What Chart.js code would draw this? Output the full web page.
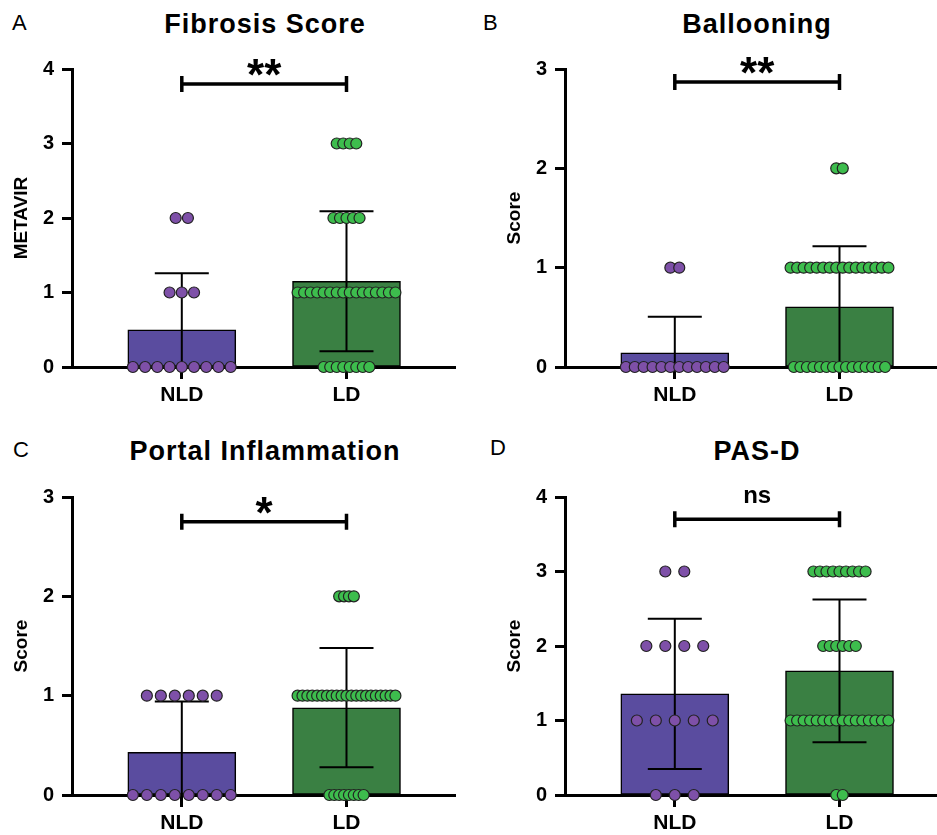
<!DOCTYPE html>
<html>
<head>
<meta charset="utf-8">
<script src="https://cdn.jsdelivr.net/npm/chart.js@4"></script>
<style>
  body { margin: 0; width: 937px; height: 835px; overflow: hidden; background: #fff;
         font-family: "Liberation Sans", Arial, Helvetica, sans-serif; position: relative; }
  canvas { position: absolute; }
  .letter { position: absolute; font-size: 22px; line-height: 1; color: #000; }
  .title { position: absolute; font-size: 27px; font-weight: bold; line-height: 1; letter-spacing: 1px;
           white-space: nowrap; transform: translateX(-50%); color: #000; }
</style>
</head>
<body>
<div class="letter" style="left:12px;top:12px">A</div>
<div class="letter" style="left:483px;top:12px">B</div>
<div class="letter" style="left:13px;top:439px">C</div>
<div class="letter" style="left:490px;top:437px">D</div>
<div class="title" style="left:265px;top:11px">Fibrosis Score</div>
<div class="title" style="left:757px;top:11px">Ballooning</div>
<div class="title" style="left:265px;top:438px">Portal Inflammation</div>
<div class="title" style="left:757px;top:438px">PAS-D</div>
<canvas id="chartA" width="462" height="418" style="left:0px;top:0px"></canvas>
<canvas id="chartB" width="462" height="418" style="left:493px;top:0px"></canvas>
<canvas id="chartC" width="462" height="418" style="left:0px;top:428px"></canvas>
<canvas id="chartD" width="462" height="418" style="left:493px;top:428px"></canvas>
<script>
// groups and per-animal scores
const groups = ['NLD', 'LD'];

const fibrosisNLD = [0, 0, 0, 0, 0, 0, 0, 0, 0, 1, 1, 1, 2, 2];
const fibrosisLD = [0, 0, 0, 0, 0, 0, 0, 0,
                    1, 1, 1, 1, 1, 1, 1, 1, 1, 1, 1, 1, 1, 1, 1, 1,
                    2, 2, 2, 2, 2, 3, 3, 3, 3];

const balloonNLD = [0, 0, 0, 0, 0, 0, 0, 0, 0, 0, 0, 0, 1, 1];
const balloonLD = [0, 0, 0, 0, 0, 0, 0, 0, 0, 0, 0, 0, 0, 0, 0,
                   1, 1, 1, 1, 1, 1, 1, 1, 1, 1, 1, 1, 1, 1, 1, 1,
                   2, 2];

const portalNLD = [0, 0, 0, 0, 0, 0, 0, 0, 1, 1, 1, 1, 1, 1];
const portalLD = [0, 0, 0, 0, 0, 0, 0, 0,
                  1, 1, 1, 1, 1, 1, 1, 1, 1, 1, 1, 1, 1, 1, 1, 1, 1, 1, 1, 1, 1,
                  2, 2, 2, 2];

const pasdNLD = [0, 0, 0, 1, 1, 1, 1, 1, 2, 2, 2, 2, 3, 3];
const pasdLD = [0, 0,
                1, 1, 1, 1, 1, 1, 1, 1, 1, 1, 1, 1, 1, 1, 1, 1,
                2, 2, 2, 2, 2, 2,
                3, 3, 3, 3, 3, 3, 3, 3, 3];

const yTitles = ['METAVIR', 'Score', 'Score', 'Score'];
const yMaxes = [4, 3, 3, 4];
const sigLabels = ['**', '**', '*', 'ns'];

const FONT = '"Liberation Sans", Arial, Helvetica, sans-serif';
Chart.defaults.font.family = FONT;
Chart.defaults.color = '#000';

const barColors = ['#5a4c9f', '#3a8043'];
const dotColors = ['#7e50a8', '#3dbd4d'];
const UNIT = 165;              // px between the two group centres
const SPREAD = 98 / UNIT;      // widest row of dots
const MAX_STEP = 19 / UNIT;

function mean(a) { return a.reduce((s, v) => s + v, 0) / a.length; }
function sd(a) {
    var m = mean(a);
    return Math.sqrt(a.reduce((s, v) => s + (v - m) * (v - m), 0) / (a.length - 1));
}

// spread tied scores side by side around the group centre
function swarm(values, gi) {
    var counts = {};
    values.forEach(v => { counts[v] = (counts[v] || 0) + 1; });
    var maxRow = Math.max(...Object.values(counts));
    var step = maxRow > 1 ? Math.min(MAX_STEP, SPREAD / (maxRow - 1)) : 0;
    var seen = {};
    return values.map(v => {
        seen[v] = seen[v] === undefined ? 0 : seen[v] + 1;
        return { x: gi + (seen[v] - (counts[v] - 1) / 2) * step, y: v };
    });
}

const errorBars = {
    id: 'errorBars',
    afterDatasetDraw(chart, args, opts) {
        if (args.index !== 0) return;
        const { ctx, scales: { x, y } } = chart;
        ctx.save();
        ctx.strokeStyle = '#000';
        ctx.lineWidth = 2;
        opts.means.forEach((m, i) => {
            var s = opts.sds[i];
            var cx = x.getPixelForValue(i);
            var top = y.getPixelForValue(m + s);
            var low = m - s;
            var bot = y.getPixelForValue(Math.max(low, 0));
            ctx.beginPath();
            ctx.moveTo(cx, top); ctx.lineTo(cx, bot);
            ctx.moveTo(cx - 27, top); ctx.lineTo(cx + 27, top);
            if (low > 0) { ctx.moveTo(cx - 27, bot); ctx.lineTo(cx + 27, bot); }
            ctx.stroke();
        });
        ctx.restore();
    },
    afterDraw(chart, args, opts) {
        const { ctx, scales: { x, y } } = chart;
        var x0 = x.getPixelForValue(0), x1 = x.getPixelForValue(1);
        var yb = y.getPixelForValue(opts.sigY);
        ctx.save();
        ctx.strokeStyle = '#000';
        ctx.lineWidth = 3.5;
        ctx.beginPath();
        ctx.moveTo(x0, yb); ctx.lineTo(x1, yb);
        ctx.moveTo(x0, yb - 8); ctx.lineTo(x0, yb + 8);
        ctx.moveTo(x1, yb - 8); ctx.lineTo(x1, yb + 8);
        ctx.stroke();
        ctx.fillStyle = '#000';
        ctx.textAlign = 'center';
        ctx.textBaseline = 'alphabetic';
        if (opts.label === 'ns') {
            ctx.font = 'bold 24px ' + FONT;
            ctx.fillText(opts.label, (x0 + x1) / 2, yb - 16);
        } else {
            ctx.font = 'bold 44px ' + FONT;
            ctx.fillText(opts.label, (x0 + x1) / 2, yb + 6);
        }
        ctx.restore();
    }
};

function makePanel(id, nld, ld, k, sigY) {
    var sets = [nld, ld];
    var means = sets.map(mean);
    var sds = sets.map(sd);
    return new Chart(document.getElementById(id), {
        type: 'bar',
        data: {
            datasets: [{
                type: 'bar',
                data: means.map((m, i) => ({ x: i, y: m })),
                backgroundColor: barColors,
                borderColor: '#000',
                borderWidth: 1.5,
                borderSkipped: false,
                barThickness: 108,
                order: 2,
            }, {
                type: 'scatter',
                data: swarm(nld, 0),
                backgroundColor: dotColors[0],
                borderColor: '#222',
                pointRadius: 5.5,
                pointBorderWidth: 1.2,
                clip: false,
                order: 1,
            }, {
                type: 'scatter',
                data: swarm(ld, 1),
                backgroundColor: dotColors[1],
                borderColor: '#222',
                pointRadius: 5.5,
                pointBorderWidth: 1.2,
                clip: false,
                order: 1,
            }]
        },
        options: {
            responsive: false,
            animation: false,
            layout: { padding: { left: 0, top: 69, right: 6, bottom: 5 } },
            plugins: {
                legend: { display: false },
                tooltip: { enabled: false },
                errorBars: { means: means, sds: sds, sigY: sigY, label: sigLabels[k] },
            },
            scales: {
                x: {
                    type: 'linear',
                    offset: false,
                    min: -110 / UNIT,
                    max: (384 - 110) / UNIT,
                    afterBuildTicks: s => { s.ticks = [{ value: 0 }, { value: 1 }]; },
                    afterFit: s => { s.height = 46; },
                    ticks: {
                        callback: v => groups[v],
                        font: { size: 21, weight: 'bold' },
                        color: '#000',
                        padding: 4,
                        maxRotation: 0,
                        autoSkip: false,
                    },
                    grid: { offset: false, drawOnChartArea: false, tickLength: 12, tickWidth: 3, color: '#000' },
                    border: { color: '#000', width: 3 },
                },
                y: {
                    min: 0,
                    max: yMaxes[k],
                    afterFit: s => { s.width = 72; },
                    ticks: { stepSize: 1, font: { size: 20, weight: 'bold' }, color: '#000', padding: 8 },
                    grid: { drawOnChartArea: false, tickLength: 10, tickWidth: 3, color: '#000' },
                    border: { color: '#000', width: 3 },
                    title: {
                        display: true,
                        text: yTitles[k],
                        font: { size: 19, weight: 'bold' },
                        color: '#000',
                        padding: { top: 10, bottom: 0 },
                    },
                },
            },
        },
        plugins: [errorBars],
    });
}

makePanel('chartA', fibrosisNLD, fibrosisLD, 0, 3.8);
makePanel('chartB', balloonNLD, balloonLD, 1, 2.87);
makePanel('chartC', portalNLD, portalLD, 2, 2.75);
makePanel('chartD', pasdNLD, pasdLD, 3, 3.7);
</script>
</body>
</html>
